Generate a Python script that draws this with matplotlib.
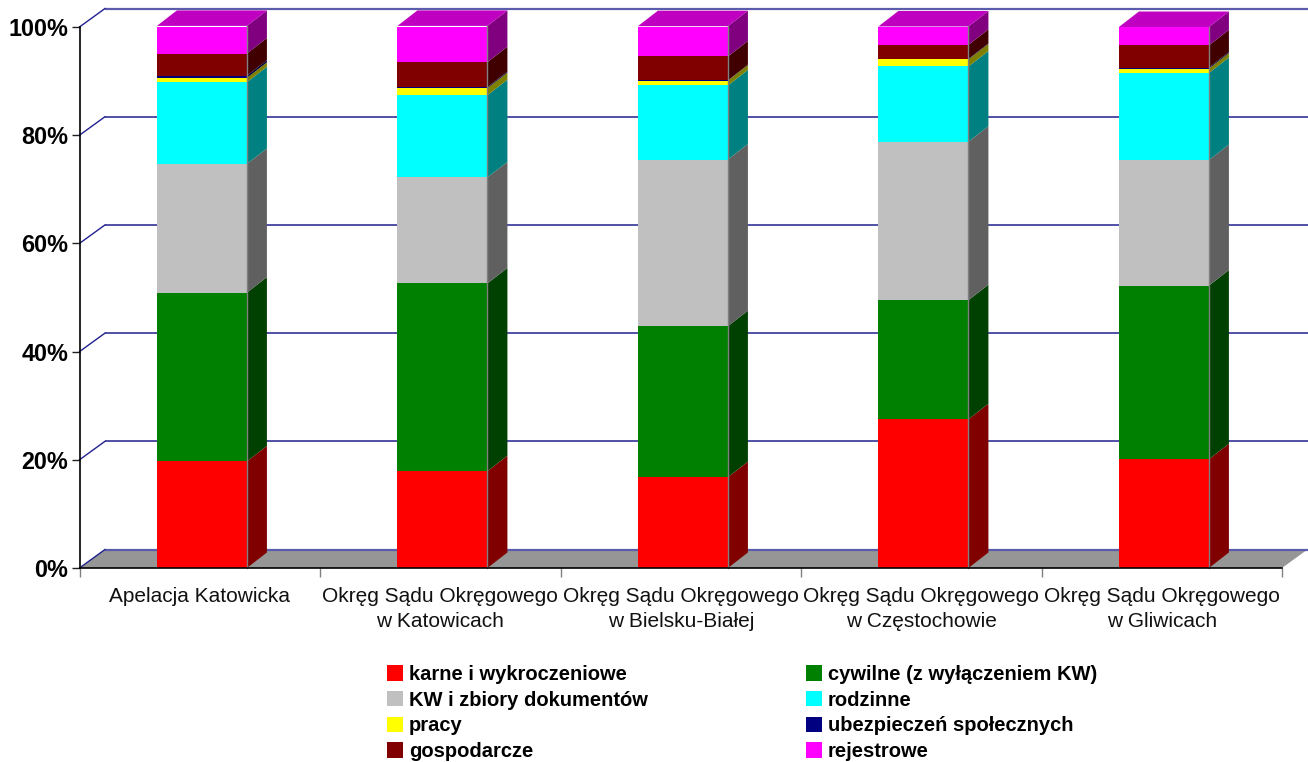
import matplotlib
matplotlib.use('Agg')
import matplotlib.pyplot as plt
from matplotlib.patches import Patch

plt.rcParams['font.family'] = ['Liberation Sans', 'DejaVu Sans']

# DATA (percent of each column)
okregi = ['Apelacja Katowicka',
          'Okręg Sądu Okręgowego\nw Katowicach',
          'Okręg Sądu Okręgowego\nw Bielsku-Białej',
          'Okręg Sądu Okręgowego\nw Częstochowie',
          'Okręg Sądu Okręgowego\nw Gliwicach']
nazwy = ['karne i wykroczeniowe', 'cywilne (z wyłączeniem KW)',
         'KW i zbiory dokumentów', 'rodzinne', 'pracy',
         'ubezpieczeń społecznych', 'gospodarcze', 'rejestrowe']
karne = [19.7, 17.9, 16.8, 27.5, 20.1]
cywilne = [31.2, 34.7, 27.9, 22.0, 32.1]
kw = [23.8, 19.6, 30.8, 29.3, 23.2]
rodzinne = [15.1, 15.2, 13.7, 13.9, 16.1]
pracy = [0.8, 1.3, 0.9, 1.3, 0.8]
ubezp = [0.4, 0.2, 0.05, 0.1, 0.2]
gospodarcze = [4.1, 4.6, 4.4, 2.6, 4.1]
rejestrowe = [5.1, 6.7, 5.6, 3.4, 3.4]
serie = [karne, cywilne, kw, rodzinne, pracy, ubezp, gospodarcze, rejestrowe]
yticks = [0, 20, 40, 60, 80, 100]

kolory = ['#FF0000', '#008000', '#C0C0C0', '#00FFFF', '#FFFF00', '#000080', '#800000', '#FF00FF']
boki = ['#800000', '#004000', '#606060', '#008080', '#808000', '#000040', '#400000', '#800080']
gora = '#C000C0'

W, H = 1308, 762
fig = plt.figure(figsize=(W/100, H/100), dpi=100)
fig.patch.set_facecolor('white')
ax = fig.add_axes([79.5/W, 1-568/H, (1282-79.5)/W, 541/H])
ax.set_xlim(0, 5)
ax.set_ylim(0, 100)
for s in ['top', 'right']:
    ax.spines[s].set_visible(False)
ax.spines['left'].set_color('black')
ax.spines['bottom'].set_color('black')
ax.spines['left'].set_linewidth(1.2)
ax.spines['bottom'].set_linewidth(1.2)
ax.spines['left'].set_zorder(10)
ax.spines['bottom'].set_zorder(10)

# 3D look: depth of the walls and of the columns, in data units
px_x = 5/(1282-79.5)
px_y = 100/541
wall_dx, wall_dy = 25.5*px_x, 18.5*px_y
bar_dx, bar_dy = 20*px_x, 15.5*px_y
szer = 90*px_x

# floor and gridlines
ax.fill([0, wall_dx, 5+wall_dx, 5], [0, wall_dy, wall_dy, 0],
        color='#969696', lw=0, zorder=1, clip_on=False)
for y in yticks:
    # the top and floor lines come out thicker and paler in the original
    if y in (0, 100):
        kol, gr = '#5c5cac', 1.6
    else:
        kol, gr = '#202090', 1.1
    ax.plot([wall_dx, 5+wall_dx], [y+wall_dy, y+wall_dy],
            color=kol, lw=gr, zorder=2, clip_on=False, solid_capstyle='butt')
    ax.plot([0, wall_dx], [y, y+wall_dy],
            color='#202090', lw=1.0, zorder=2, clip_on=False)

pozycje = [i+0.509 for i in range(5)]
for i, x in enumerate(pozycje):
    dol = 0
    for j, s in enumerate(serie):
        v = s[i]
        ax.bar(x, v, szer, bottom=dol, color=kolory[j], lw=0, zorder=5)
        p = x+szer/2
        ax.fill([p, p+bar_dx, p+bar_dx, p],
                [dol, dol+bar_dy, dol+v+bar_dy, dol+v],
                color=boki[j], lw=0, zorder=4, clip_on=False)
        dol += v
    l = x-szer/2
    p = x+szer/2
    ax.fill([l, l+bar_dx, p+bar_dx, p], [dol, dol+bar_dy, dol+bar_dy, dol],
            color=gora, lw=0, zorder=4, clip_on=False)
    ax.plot([p, p], [0, dol], color='#808080', lw=1, zorder=6, clip_on=False)

# axes
ax.set_yticks(yticks)
ax.set_yticklabels([str(y)+'%' for y in yticks], fontsize=16.8, fontweight='bold')
ax.tick_params(axis='y', length=6, width=1, color='#202020', pad=2)
ax.set_xticks(range(6))
ax.set_xticklabels([])
ax.tick_params(axis='x', which='major', length=6.5, width=1, color='#808080')
ax.set_xticks([i+0.5 for i in range(5)], minor=True)
ax.set_xticklabels(okregi, minor=True, fontsize=15, linespacing=1.4, color='#111111')
ax.tick_params(axis='x', which='minor', length=0, pad=14)

# legend, filled row by row like the original
kolejnosc = [0, 2, 4, 6, 1, 3, 5, 7]
uchwyty = [Patch(color=kolory[k], lw=0) for k in kolejnosc]
etykiety = [nazwy[k] for k in kolejnosc]
fig.legend(uchwyty, etykiety, ncols=2, frameon=False, loc='upper left',
           bbox_to_anchor=(381/W, 1-659/H),
           prop={'size': 14.5, 'weight': 'bold'},
           handlelength=0.8, handleheight=0.8, handletextpad=0.28,
           columnspacing=7.85, labelspacing=0.33, borderpad=0.3, borderaxespad=0)

fig.savefig('out.png', dpi=100)
